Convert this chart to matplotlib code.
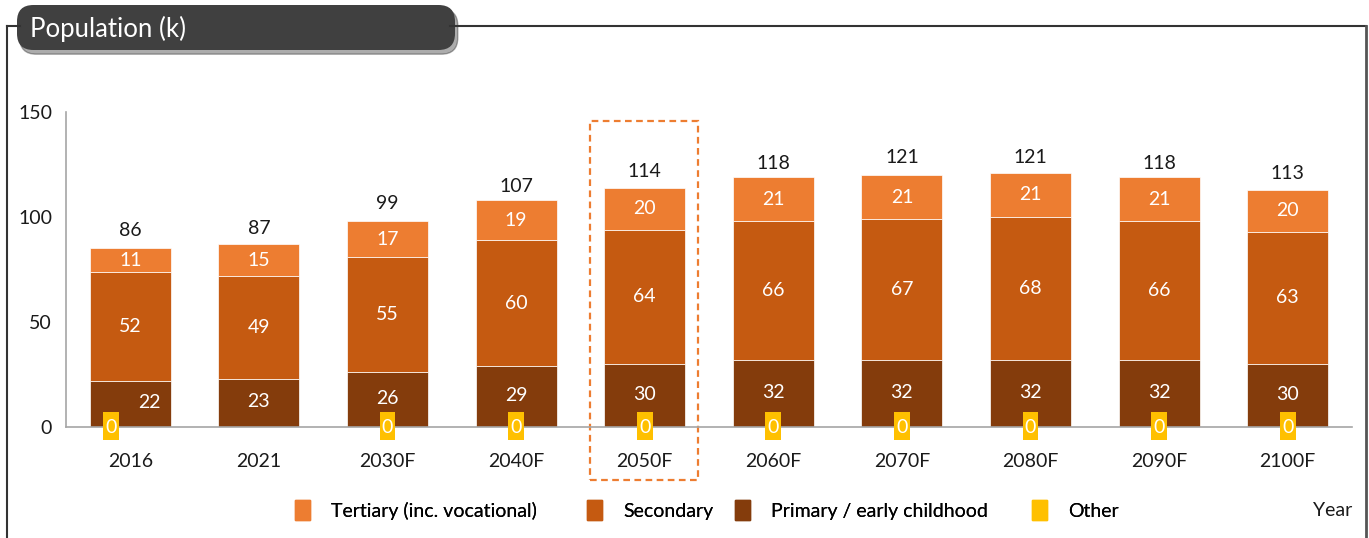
import matplotlib.pyplot as plt
import matplotlib.patches as mpatches
from matplotlib.lines import Line2D
import numpy as np

plt.rcParams['font.family'] = ['Lato', 'DejaVu Sans']

years = ['2016', '2021', '2030F', '2040F', '2050F', '2060F', '2070F', '2080F', '2090F', '2100F']
primary = [22, 23, 26, 29, 30, 32, 32, 32, 32, 30]
secondary = [52, 49, 55, 60, 64, 66, 67, 68, 66, 63]
tertiary = [11, 15, 17, 19, 20, 21, 21, 21, 21, 20]
other = [0, 0, 0, 0, 0, 0, 0, 0, 0, 0]
totals = [86, 87, 99, 107, 114, 118, 121, 121, 118, 113]
show_other = [True, False, True, True, True, True, True, True, True, True]
series_names = ['Tertiary (inc. vocational)', 'Secondary', 'Primary / early childhood', 'Other']

c_ter = '#ED7D31'
c_sec = '#C55A11'
c_pri = '#843C0C'
c_oth = '#FFC000'
fs = 14

W, H = 1369, 538
fig = plt.figure(figsize=(W / 100, H / 100), dpi=100)
ax = fig.add_axes([66 / W, 1 - 427 / H, (1352 - 66) / W, (427 - 112) / H])

x = np.arange(len(years))
bw = 0.63
prim = np.array(primary)
sec = np.array(secondary)
ter = np.array(tertiary)
ax.bar(x, other, bw, color=c_oth)
ax.bar(x, prim, bw, color=c_pri, edgecolor='white', linewidth=0.5)
ax.bar(x, sec, bw, bottom=prim, color=c_sec, edgecolor='white', linewidth=0.5)
ax.bar(x, ter, bw, bottom=prim + sec, color=c_ter, edgecolor='white', linewidth=0.5)

lbl = dict(color='white', fontsize=fs, ha='center', va='center')
for i in range(len(years)):
    dx = 0.15 if i == 0 else 0
    ax.text(i + dx, prim[i] / 2 + 0.5, str(primary[i]), **lbl)
    ax.text(i, prim[i] + sec[i] / 2, str(secondary[i]), **lbl)
    ax.text(i, prim[i] + sec[i] + ter[i] / 2, str(tertiary[i]), **lbl)
    ax.text(i, totals[i] + 7.5, str(totals[i]), color='#1a1a1a', fontsize=fs,
            ha='center', va='center')
    if show_other[i]:
        ox = -0.15 if i == 0 else 0
        ax.add_patch(mpatches.Rectangle((i + ox - 0.062, other[i] - 6.2), 0.124, 13.3,
                                        fc=c_oth, ec='none', clip_on=False, zorder=3))
        ax.text(i + ox, other[i] - 0.3, str(other[i]), color='white', fontsize=fs,
                ha='center', va='center', zorder=4)

ax.set_xlim(-0.5, len(years) - 0.5)
ax.set_ylim(0, 150)
ax.set_yticks([0, 50, 100, 150])
ax.set_xticks(x)
ax.set_xticklabels(years)
ax.tick_params(axis='both', length=0, labelsize=fs, colors='#1a1a1a')
ax.tick_params(axis='x', pad=19)
ax.tick_params(axis='y', pad=10)
for s in ['top', 'right']:
    ax.spines[s].set_visible(False)
for s in ['left', 'bottom']:
    ax.spines[s].set_color('#a6a6a6')
    ax.spines[s].set_linewidth(1.2)

# highlight box around 2050F
hl = years.index('2050F')
ax.add_patch(mpatches.Rectangle((hl - 0.426, -25.2), 0.84, 170.9, fill=False,
                                ec=c_ter, ls=(0, (3, 2)), lw=1.6, clip_on=False))

# legend, one entry per box so spacing follows the original
leg_x = [295, 587, 735, 1032]
for name, col, lx in zip(series_names, [c_ter, c_sec, c_pri, c_oth], leg_x):
    leg = fig.legend(handles=[mpatches.Patch(color=col, label=name)], loc='center left',
                     bbox_to_anchor=(lx / W, 1 - 510 / H), frameon=False, fontsize=fs,
                     handlelength=0.75, handleheight=1.15, handletextpad=1.1,
                     borderpad=0, borderaxespad=0)
    fig.add_artist(leg)
fig.text(1333 / W, 1 - 510 / H, 'Year', fontsize=fs, ha='center', va='center',
         color='#1a1a1a')

# outer frame
fig.add_artist(Line2D([7 / W, 7 / W], [0, 1 - 26 / H], color='#333333', lw=1.5))
fig.add_artist(Line2D([7 / W, 20 / W], [1 - 26 / H, 1 - 26 / H], color='#333333', lw=1.5))
fig.add_artist(Line2D([450 / W, 1366 / W], [1 - 26 / H, 1 - 26 / H], color='#333333', lw=1.5))
fig.add_artist(Line2D([1366 / W, 1366 / W], [0, 1 - 26 / H], color='#555555', lw=2))

# title box
tb = mpatches.FancyBboxPatch((17 / W, 1 - 50 / H), (455 - 17) / W, (50 - 5) / H,
                             boxstyle='round,pad=0,rounding_size=0.012',
                             transform=fig.transFigure, fc='#404040', ec='none',
                             mutation_aspect=W / H)
shadow = mpatches.Shadow(tb, 2 / W, -3 / H, alpha=0.35)
fig.add_artist(shadow)
fig.add_artist(tb)
fig.text(30 / W, 1 - 29 / H, 'Population (k)', color='white', fontsize=18.5,
         ha='left', va='center')

fig.savefig('out.png', dpi=100)
